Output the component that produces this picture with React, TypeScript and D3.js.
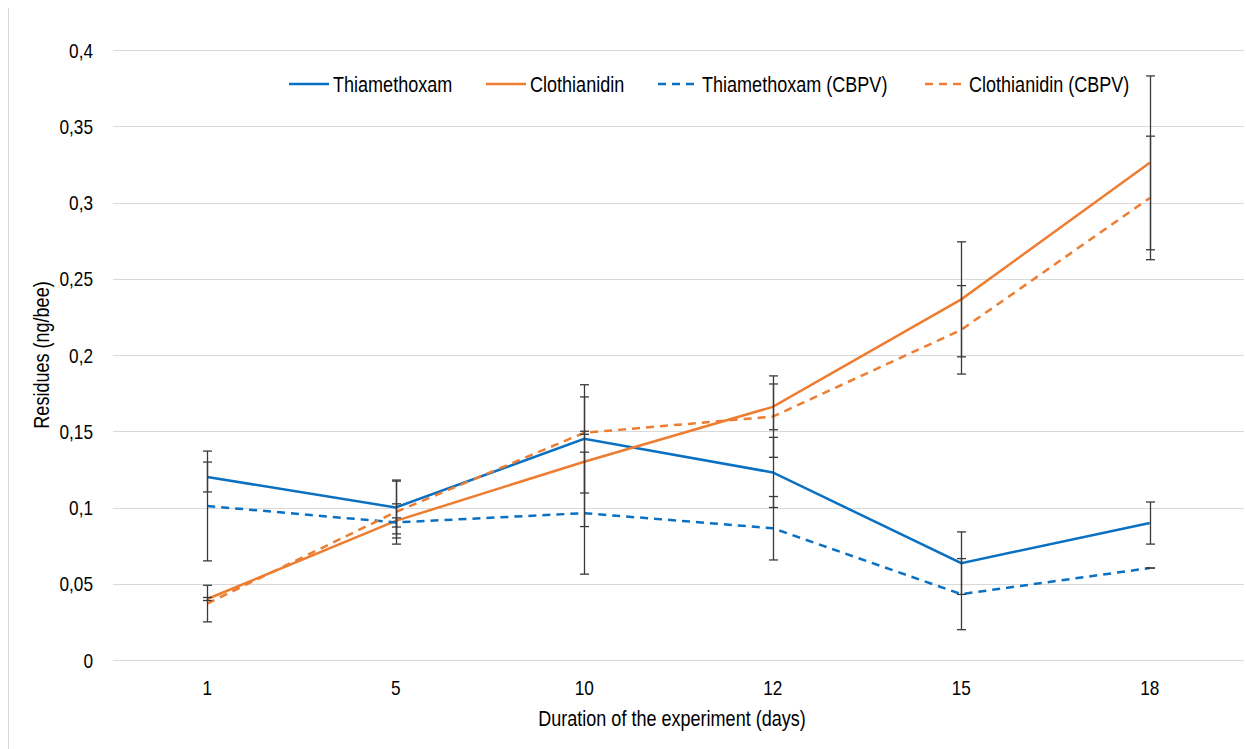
import React, { useRef, useEffect } from "react";
import * as d3 from "d3";

// days of the experiment
const categories = ["1", "5", "10", "12", "15", "18"];

// residues (ng/bee) and their error bars
const thiamethoxam = [0.12, 0.1, 0.145, 0.123, 0.0635, 0.0898];
const thiamethoxamErr = [0.0098, 0.0173, 0.0355, 0.023, 0.0205, 0.0138];
const clothianidin = [0.04, 0.0912, 0.13, 0.166, 0.2365, 0.326];
const clothianidinErr = [0.001, 0.0112, 0.0425, 0.015, 0.0377, 0.057];
const thiamethoxamCbpv = [0.101, 0.0902, 0.0963, 0.0864, 0.0432, 0.0603];
const thiamethoxamCbpvErr = [0.036, 0.003, 0.04, 0.0208, 0.0233, 0];
const clothianidinCbpv = [0.037, 0.097, 0.149, 0.1596, 0.2165, 0.303];
const clothianidinCbpvErr = [0.012, 0.021, 0.001, 0.0267, 0.029, 0.0405];

const seriesNames = [
  "Thiamethoxam",
  "Clothianidin",
  "Thiamethoxam (CBPV)",
  "Clothianidin (CBPV)",
];

const BLUE = "#0A70C2";
const ORANGE = "#ED7D31";
// no narrow font installed -> squeeze Liberation Sans horizontally
const FONT = "'Liberation Sans', Arial, sans-serif";
const SQUEEZE = 0.82;

interface Series {
  name: string;
  values: number[];
  errors: number[];
  color: string;
  dashed: boolean;
}

const App = () => {
  const ref = useRef<SVGSVGElement | null>(null);

  useEffect(() => {
    if (!ref.current) return;
    const width = 1246;
    const height = 749;

    const svg = d3.select(ref.current);
    svg.selectAll("*").remove();

    const series: Series[] = [
      { name: seriesNames[0], values: thiamethoxam, errors: thiamethoxamErr, color: BLUE, dashed: false },
      { name: seriesNames[1], values: clothianidin, errors: clothianidinErr, color: ORANGE, dashed: false },
      { name: seriesNames[2], values: thiamethoxamCbpv, errors: thiamethoxamCbpvErr, color: BLUE, dashed: true },
      { name: seriesNames[3], values: clothianidinCbpv, errors: clothianidinCbpvErr, color: ORANGE, dashed: true },
    ];

    const x = d3.scaleBand<string>().domain(categories).range([113, 1244]);
    const y = d3.scaleLinear().domain([0, 0.4]).range([660, 50]);
    const cx = (c: string) => (x(c) as number) + x.bandwidth() / 2;

    // narrow-looking text at (tx, ty)
    const label = (
      tx: number,
      ty: number,
      str: string,
      size: number,
      anchor: string,
      rotate = 0
    ) =>
      svg
        .append("text")
        .attr("transform", `translate(${tx}, ${ty}) rotate(${rotate}) scale(${SQUEEZE}, 1)`)
        .attr("text-anchor", anchor)
        .style("font-family", FONT)
        .style("font-size", `${size}px`)
        .style("fill", "#000")
        .text(str);

    svg.append("rect").attr("width", width).attr("height", height).attr("fill", "#fff");

    // chart border (only the left side shows)
    svg
      .append("line")
      .attr("x1", 8.5)
      .attr("x2", 8.5)
      .attr("y1", 8)
      .attr("y2", height)
      .attr("stroke", "#d9d9d9")
      .attr("stroke-width", 1);

    // gridlines + y tick labels
    const fmt = (d: number) => String(+d.toFixed(2)).replace(".", ",");
    const ticks = y.ticks(8);
    svg
      .append("g")
      .selectAll("line")
      .data(ticks)
      .enter()
      .append("line")
      .attr("x1", 113)
      .attr("x2", 1244)
      .attr("y1", (d) => Math.round(y(d)) + 0.5)
      .attr("y2", (d) => Math.round(y(d)) + 0.5)
      .attr("stroke", "#d9d9d9")
      .attr("stroke-width", 1);

    ticks.forEach((d) => label(93, y(d) + 7.5, fmt(d), 21, "end"));

    // x tick labels
    categories.forEach((c) => label(cx(c), 695, c, 21, "middle"));

    // axis titles
    label(672, 726, "Duration of the experiment (days)", 22, "middle");
    label(49, 355, "Residues (ng/bee)", 22, "middle", -90);

    // lines
    const line = d3
      .line<number>()
      .x((d, i) => cx(categories[i]))
      .y((d) => y(d));

    series.forEach((s) => {
      svg
        .append("path")
        .datum(s.values)
        .attr("fill", "none")
        .attr("stroke", s.color)
        .attr("stroke-width", 2.5)
        .attr("stroke-dasharray", s.dashed ? "8,6" : null)
        .attr("d", line);
    });

    // error bars
    const capHalf = 4.5;
    series.forEach((s) => {
      const g = svg.append("g").attr("stroke", "#3a3a3a").attr("stroke-width", 1.3);
      s.values.forEach((v, i) => {
        const px = Math.round(cx(categories[i])) + 0.5;
        const top = y(v + s.errors[i]);
        const bot = y(v - s.errors[i]);
        g.append("line").attr("x1", px).attr("x2", px).attr("y1", top).attr("y2", bot);
        g.append("line").attr("x1", px - capHalf).attr("x2", px + capHalf).attr("y1", top).attr("y2", top);
        g.append("line").attr("x1", px - capHalf).attr("x2", px + capHalf).attr("y1", bot).attr("y2", bot);
      });
    });

    // legend
    const legendX = [289, 486, 658, 925];
    const legendY = 84;
    series.forEach((s, i) => {
      svg
        .append("line")
        .attr("x1", legendX[i])
        .attr("x2", legendX[i] + 40)
        .attr("y1", legendY)
        .attr("y2", legendY)
        .attr("stroke", s.color)
        .attr("stroke-width", 2.5)
        .attr("stroke-dasharray", s.dashed ? "8,6" : null);
      label(legendX[i] + 44, legendY + 7.5, s.name, 22, "start");
    });
  }, []);

  return (
    <svg
      ref={ref}
      width={1246}
      height={749}
      style={{ position: "absolute", left: 0, top: 0, display: "block" }}
    />
  );
};

export default App;
